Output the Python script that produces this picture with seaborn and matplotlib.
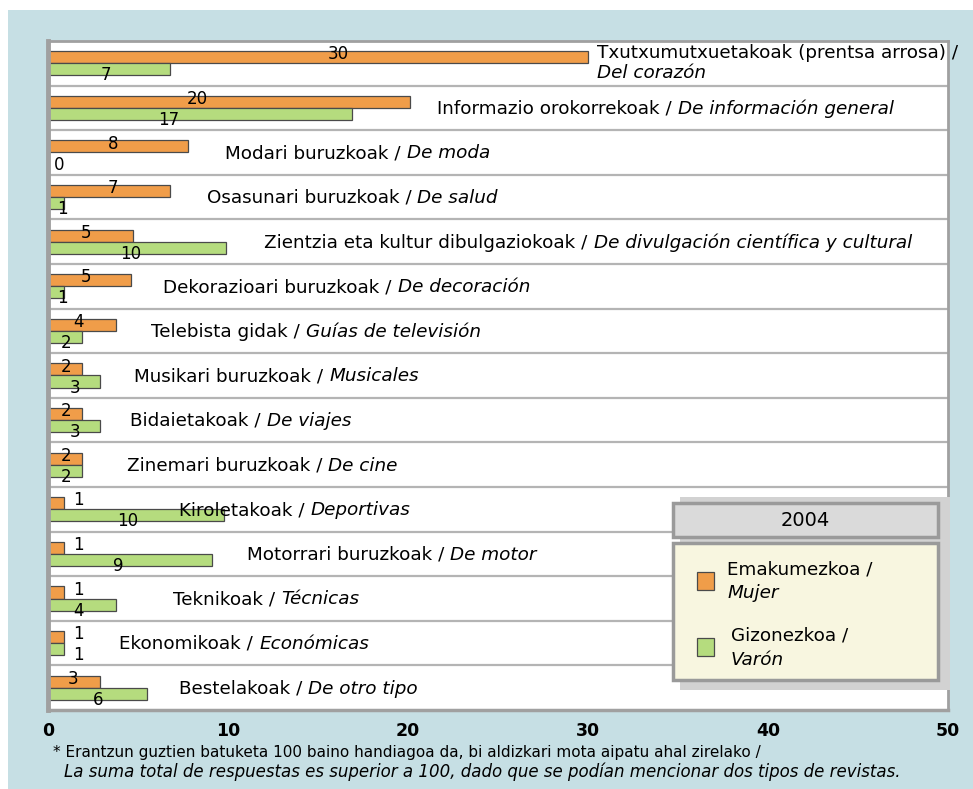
import pandas as pd
import matplotlib.pyplot as plt
import seaborn as sns
from matplotlib.patches import Rectangle

# Data (2004)
basque = ["Txutxumutxuetakoak (prentsa arrosa) /", "Informazio orokorrekoak /", "Modari buruzkoak /",
          "Osasunari buruzkoak /", "Zientzia eta kultur dibulgaziokoak /", "Dekorazioari buruzkoak /",
          "Telebista gidak /", "Musikari buruzkoak /", "Bidaietakoak /", "Zinemari buruzkoak /",
          "Kiroletakoak /", "Motorrari buruzkoak /", "Teknikoak /", "Ekonomikoak /", "Bestelakoak /"]
spanish = ["Del corazón", "De información general", "De moda", "De salud",
           "De divulgación científica y cultural", "De decoración", "Guías de televisión",
           "Musicales", "De viajes", "De cine", "Deportivas", "De motor", "Técnicas",
           "Económicas", "De otro tipo"]
women = [30.0, 20.1, 7.8, 6.8, 4.7, 4.6, 3.8, 1.9, 1.9, 1.9, 0.9, 0.9, 0.9, 0.9, 2.9]
men = [6.8, 16.9, 0.0, 0.9, 9.9, 0.9, 1.9, 2.9, 2.9, 1.9, 9.8, 9.1, 3.8, 0.9, 5.5]
series = ["Emakumezkoa / Mujer", "Gizonezkoa / Varón"]
xticks = [0, 10, 20, 30, 40, 50]
year = "2004"
note1 = "* Erantzun guztien batuketa 100 baino handiagoa da, bi aldizkari mota aipatu ahal zirelako /"
note2 = "La suma total de respuestas es superior a 100, dado que se podían mencionar dos tipos de revistas."

# Layout: where the hand-placed labels sit (x in axis units)
label_center_x = [None, 34.3, 17.2, 16.9, 30.0, 16.6, 14.9, 12.7, 10.7, 11.9, 13.7, 19.1, 12.1, 10.9, 13.9]
women_lab_x = [16.1, 8.3, 3.6, 3.6, 2.1, 2.1, 1.7, 1.0, 1.0, 1.0, 1.7, 1.7, 1.7, 1.7, 1.4]
men_lab_x = [3.2, 6.7, 0.6, 0.8, 4.6, 0.8, 1.0, 1.5, 1.5, 1.0, 4.4, 3.9, 1.7, 1.7, 2.8]

orange = "#f09d49"
green = "#b5dc7e"
bg = "#c6dfe4"

sns.set_style("white")
plt.rcParams["font.family"] = ["DejaVu Sans"]
plt.rcParams["text.color"] = "black"
plt.rcParams["xtick.color"] = "black"

df = pd.DataFrame({
    "cat": list(range(len(basque))) * 2,
    "value": women + men,
    "sex": [series[0]] * len(women) + [series[1]] * len(men),
})

W, H = 973, 789
fig = plt.figure(figsize=(W / 100, H / 100), dpi=100)
fig.patch.set_facecolor("white")
fig.patches.append(Rectangle((8 / W, 0), 1, 1 - 10 / H, transform=fig.transFigure,
                             facecolor=bg, edgecolor="none", zorder=-10))

ax = fig.add_axes([48 / W, 1 - 710 / H, 900 / W, 669 / H])
ax.set_facecolor("white")
sns.barplot(data=df, y="cat", x="value", hue="sex", orient="h", order=list(range(len(basque))),
            palette=[orange, green], saturation=1, width=0.54, edgecolor="#4a4a4a",
            linewidth=0.9, legend=False, ax=ax)

ax.set_xlim(0, 50)
ax.set_ylim(len(basque) - 0.5, -0.5)
for k in range(len(basque) - 1):
    ax.axhline(k + 0.5, color="#b4b4b4", lw=1.6, zorder=0)

ax.set_xticks(xticks)
ax.set_xticklabels([str(t) for t in xticks], fontsize=12.5, fontweight="bold")
ax.tick_params(axis="x", length=0, pad=9)
ax.set_yticks([])
ax.set_xlabel("")
ax.set_ylabel("")
for side, lw in [("left", 3.5), ("bottom", 2.5), ("top", 2), ("right", 2)]:
    ax.spines[side].set_visible(True)
    ax.spines[side].set_color("#a0a0a0")
    ax.spines[side].set_linewidth(lw)

# value labels
for i in range(len(women)):
    ax.text(women_lab_x[i], i - 0.2, f"{women[i]:.0f}", ha="center", va="center", fontsize=12)
    ax.text(men_lab_x[i], i + 0.27, f"{men[i]:.0f}", ha="center", va="center", fontsize=12)

# category labels: basque part plain, spanish part italic
FS = 13.2
pairs = []
for i in range(1, len(basque)):
    t1 = ax.text(0, i + 0.02, basque[i] + " ", ha="left", va="center", fontsize=FS)
    t2 = ax.annotate(spanish[i], xy=(1, 0), xycoords=t1, ha="left", va="bottom",
                     fontsize=FS, style="italic")
    pairs.append((i, t1, t2))
ax.text(30.5, -0.22, basque[0], ha="left", va="center", fontsize=FS)
ax.text(30.5, 0.21, spanish[0], ha="left", va="center", fontsize=FS, style="italic")

fig.canvas.draw()
r = fig.canvas.get_renderer()
for i, t1, t2 in pairs:
    w = t1.get_window_extent(r).width + t2.get_window_extent(r).width
    cx = ax.transData.transform((label_center_x[i], 0))[0]
    left = ax.transData.inverted().transform((cx - w / 2, 0))[0]
    t1.set_x(left)


# legend drawn as two boxes (title + body)
def axp(px, py):
    return ((px - 48) / 900, (710 - py) / 669)


def box(x0, y0, x1, y1, **kw):
    xa, ya = axp(x0, y1)
    xb, yb = axp(x1, y0)
    ax.add_patch(Rectangle((xa, ya), xb - xa, yb - ya, transform=ax.transAxes,
                           clip_on=False, **kw))


box(680, 497, 950, 690, facecolor="#d2d2d2", edgecolor="none", zorder=4)
box(673, 503, 938, 537, facecolor="#dadada", edgecolor="#9a9a9a", lw=2.5, zorder=5)
box(673, 543, 938, 680, facecolor="#f8f6e0", edgecolor="#9a9a9a", lw=2.5, zorder=5)
ax.text(*axp(805, 521), year, transform=ax.transAxes, ha="center", va="center",
        fontsize=14, zorder=6)
box(697, 572, 714, 590, facecolor=orange, edgecolor="#4a4a4a", lw=0.9, zorder=6)
box(697, 638, 714, 656, facecolor=green, edgecolor="#4a4a4a", lw=0.9, zorder=6)
ax.text(*axp(727, 569), "Emakumezkoa /", transform=ax.transAxes, ha="left", va="center",
        fontsize=FS, zorder=6)
ax.text(*axp(727, 593), "Mujer", transform=ax.transAxes, ha="left", va="center",
        fontsize=FS, style="italic", zorder=6)
ax.text(*axp(731, 636), "Gizonezkoa /", transform=ax.transAxes, ha="left", va="center",
        fontsize=FS, zorder=6)
ax.text(*axp(731, 660), "Varón", transform=ax.transAxes, ha="left", va="center",
        fontsize=FS, style="italic", zorder=6)

fig.text(53 / W, 1 - 752 / H, note1, ha="left", va="center", fontsize=11)
fig.text(64 / W, 1 - 772 / H, note2, ha="left", va="center", fontsize=12, style="italic")

fig.savefig("out.png", dpi=100, facecolor=fig.get_facecolor())
